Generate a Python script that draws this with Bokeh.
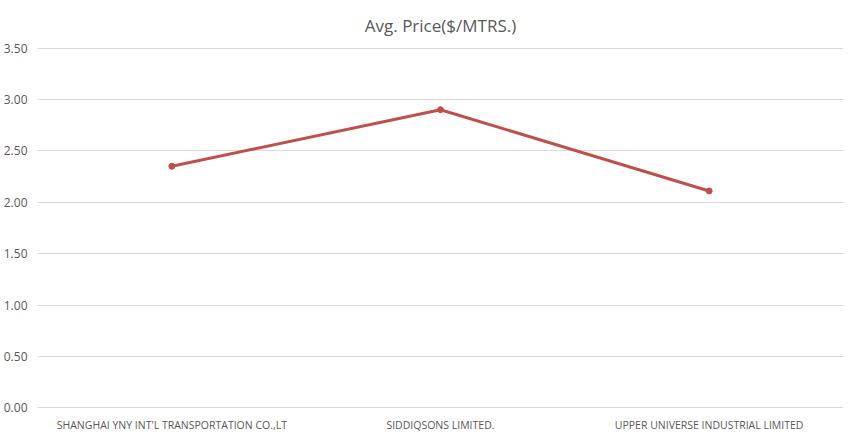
from bokeh.plotting import figure
from bokeh.models import FactorRange, Range1d, NumeralTickFormatter, FixedTicker
from bokeh.embed import file_html
from bokeh.resources import INLINE

categories = ["SHANGHAI YNY INT'L TRANSPORTATION CO.,LT", "SIDDIQSONS LIMITED.", "UPPER UNIVERSE INDUSTRIAL LIMITED"]
avg_price = [2.35, 2.90, 2.11]
y_ticks = [0.0, 0.5, 1.0, 1.5, 2.0, 2.5, 3.0, 3.5]

FONT = "Open Sans"
GREY = "#595959"

p = figure(frame_width=806, frame_height=361, output_backend="svg", toolbar_location=None,
           x_range=FactorRange(*categories), y_range=Range1d(-0.005, 3.505),
           min_border_left=34, min_border_right=8, min_border_top=45, min_border_bottom=22,
           title="Avg. Price($/MTRS.)")
p.title.align = "center"
p.title.text_font = FONT
p.title.text_font_size = "17px"
p.title.text_font_style = "normal"
p.title.text_color = GREY
p.title.standoff = 22
p.outline_line_color = None
p.border_fill_color = "white"

p.line(x=categories, y=avg_price, line_color="#c0504d", line_width=3)
p.scatter(x=categories, y=avg_price, size=6, fill_color="#c0504d", line_color="#c0504d")

p.xgrid.grid_line_color = None
p.ygrid.grid_line_color = "#d9d9d9"
p.ygrid.grid_line_width = 1

p.yaxis.ticker = FixedTicker(ticks=y_ticks)
p.yaxis.formatter = NumeralTickFormatter(format="0.00")
for ax in (p.xaxis[0], p.yaxis[0]):
    ax.axis_line_color = None
    ax.major_tick_line_color = None
    ax.minor_tick_line_color = None
    ax.major_tick_out = 0
    ax.major_tick_in = 0
    ax.major_label_text_font = FONT
    ax.major_label_text_color = GREY
p.yaxis.major_label_text_font_size = "12px"
p.xaxis.major_label_text_font_size = "10.5px"
p.yaxis.major_label_standoff = 10
p.xaxis.major_label_standoff = 9

open("out.html", "w").write(file_html(p, INLINE))
